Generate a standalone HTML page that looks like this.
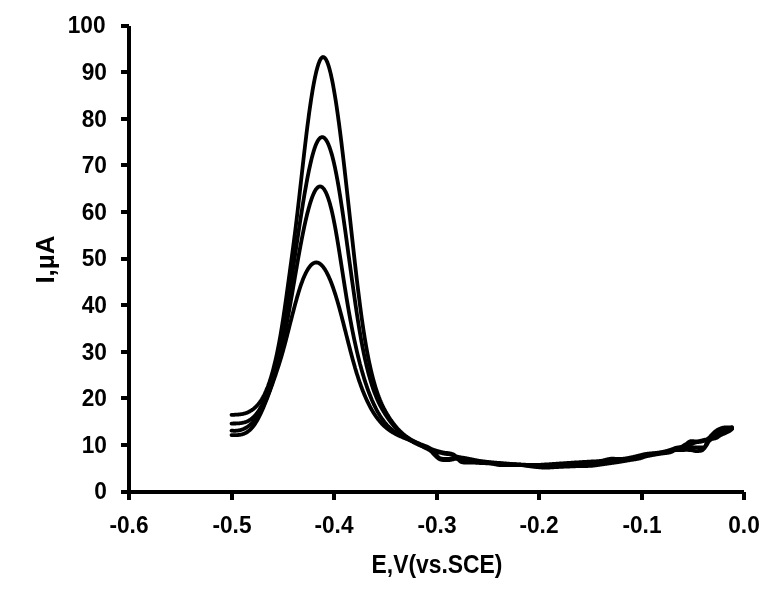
<!DOCTYPE html>
<html><head><meta charset="utf-8"><style>
html,body{margin:0;padding:0;background:#fff;}
svg{display:block;will-change:transform;}
text{font-family:"Liberation Sans",sans-serif;font-weight:bold;fill:#000;}
</style></head><body>
<svg width="783" height="606" viewBox="0 0 783 606">
<rect width="783" height="606" fill="#fff"/>
<g fill="#000">
<rect x="127" y="26" width="4" height="468"/>
<rect x="127" y="490" width="617" height="4"/>
<rect x="121" y="490" width="8" height="4"/><rect x="121" y="443" width="8" height="4"/><rect x="121" y="396" width="8" height="4"/><rect x="121" y="350" width="8" height="4"/><rect x="121" y="303" width="8" height="4"/><rect x="121" y="257" width="8" height="4"/><rect x="121" y="210" width="8" height="4"/><rect x="121" y="163" width="8" height="4"/><rect x="121" y="117" width="8" height="4"/><rect x="121" y="70" width="8" height="4"/><rect x="121" y="24" width="8" height="4"/><rect x="127" y="492" width="4" height="8"/><rect x="230" y="492" width="4" height="8"/><rect x="332" y="492" width="4" height="8"/><rect x="435" y="492" width="4" height="8"/><rect x="537" y="492" width="4" height="8"/><rect x="640" y="492" width="4" height="8"/><rect x="742" y="492" width="4" height="8"/>
</g>
<g font-size="23.4"><text transform="translate(106.9,499.30) scale(0.970,1)" text-anchor="end">0</text><text transform="translate(106.9,452.70) scale(0.970,1)" text-anchor="end">10</text><text transform="translate(106.9,406.10) scale(0.970,1)" text-anchor="end">20</text><text transform="translate(106.9,359.50) scale(0.970,1)" text-anchor="end">30</text><text transform="translate(106.9,312.90) scale(0.970,1)" text-anchor="end">40</text><text transform="translate(106.9,266.30) scale(0.970,1)" text-anchor="end">50</text><text transform="translate(106.9,219.70) scale(0.970,1)" text-anchor="end">60</text><text transform="translate(106.9,173.10) scale(0.970,1)" text-anchor="end">70</text><text transform="translate(106.9,126.50) scale(0.970,1)" text-anchor="end">80</text><text transform="translate(106.9,79.90) scale(0.970,1)" text-anchor="end">90</text><text transform="translate(105.6,33.30) scale(0.970,1)" text-anchor="end">100</text></g>
<g font-size="23.4"><text transform="translate(129.0,532.5) scale(0.970,1)" text-anchor="middle">-0.6</text><text transform="translate(232.0,532.5) scale(0.970,1)" text-anchor="middle">-0.5</text><text transform="translate(334.0,532.5) scale(0.970,1)" text-anchor="middle">-0.4</text><text transform="translate(437.0,532.5) scale(0.970,1)" text-anchor="middle">-0.3</text><text transform="translate(539.0,532.5) scale(0.970,1)" text-anchor="middle">-0.2</text><text transform="translate(642.0,532.5) scale(0.970,1)" text-anchor="middle">-0.1</text><text transform="translate(744.0,532.5) scale(0.970,1)" text-anchor="middle">0.0</text></g>
<text x="437" y="573" font-size="26" text-anchor="middle" transform="translate(437,0) scale(0.88,1) translate(-437,0)">E,V(vs.SCE)</text>
<text transform="translate(54,259.5) rotate(-90)" font-size="26" text-anchor="middle">I,µA</text>
<g fill="none" stroke="#000" stroke-width="3.8" stroke-linejoin="round" stroke-linecap="round"><path d="M231.5,414.8 L232.0,414.8 L232.5,414.8 L233.0,414.8 L233.5,414.8 L234.0,414.8 L234.5,414.8 L235.0,414.7 L235.5,414.7 L236.0,414.7 L236.5,414.7 L237.0,414.7 L237.5,414.6 L238.0,414.6 L238.5,414.5 L239.0,414.5 L239.5,414.4 L240.0,414.4 L240.5,414.3 L241.0,414.2 L241.5,414.2 L242.0,414.1 L242.5,414.0 L243.0,413.9 L243.5,413.8 L244.0,413.6 L244.5,413.5 L245.0,413.4 L245.5,413.2 L246.0,413.0 L246.5,412.9 L247.0,412.7 L247.5,412.5 L248.0,412.2 L248.5,412.0 L249.0,411.8 L249.5,411.5 L250.0,411.2 L250.5,410.9 L251.0,410.6 L251.5,410.3 L252.0,410.0 L252.5,409.6 L253.0,409.3 L253.5,408.9 L254.0,408.5 L254.5,408.1 L255.0,407.6 L255.5,407.2 L256.0,406.7 L256.5,406.2 L257.0,405.7 L257.5,405.1 L258.0,404.5 L258.5,403.9 L259.0,403.3 L259.5,402.6 L260.0,402.0 L260.5,401.2 L261.0,400.5 L261.5,399.7 L262.0,398.9 L262.5,398.0 L263.0,397.2 L263.5,396.2 L264.0,395.3 L264.5,394.3 L265.0,393.2 L265.5,392.1 L266.0,391.0 L266.5,389.8 L267.0,388.6 L267.5,387.4 L268.0,386.1 L268.5,384.7 L269.0,383.3 L269.5,381.9 L270.0,380.3 L270.5,378.8 L271.0,377.2 L271.5,375.5 L272.0,373.8 L272.5,372.0 L273.0,370.2 L273.5,368.3 L274.0,366.3 L274.5,364.3 L275.0,362.2 L275.5,360.1 L276.0,357.9 L276.5,355.6 L277.0,353.3 L277.5,350.9 L278.0,348.4 L278.5,345.9 L279.0,343.3 L279.5,340.6 L280.0,337.8 L280.5,335.0 L281.0,332.1 L281.5,329.1 L282.0,326.1 L282.5,322.9 L283.0,319.7 L283.5,316.5 L284.0,313.1 L284.5,309.7 L285.0,306.3 L285.5,302.8 L286.0,299.3 L286.5,295.7 L287.0,292.1 L287.5,288.5 L288.0,284.8 L288.5,281.2 L289.0,277.5 L289.5,273.9 L290.0,270.2 L290.5,266.6 L291.0,262.9 L291.5,259.2 L292.0,255.5 L292.5,251.8 L293.0,248.1 L293.5,244.3 L294.0,240.4 L294.5,236.6 L295.0,232.7 L295.5,228.7 L296.0,224.6 L296.5,220.5 L297.0,216.3 L297.5,212.1 L298.0,207.8 L298.5,203.5 L299.0,199.1 L299.5,194.7 L300.0,190.3 L300.5,185.8 L301.0,181.4 L301.5,176.9 L302.0,172.4 L302.5,168.0 L303.0,163.5 L303.5,159.1 L304.0,154.7 L304.5,150.4 L305.0,146.1 L305.5,141.9 L306.0,137.7 L306.5,133.6 L307.0,129.5 L307.5,125.5 L308.0,121.7 L308.5,117.9 L309.0,114.1 L309.5,110.5 L310.0,107.0 L310.5,103.6 L311.0,100.2 L311.5,97.0 L312.0,93.9 L312.5,90.8 L313.0,87.9 L313.5,85.1 L314.0,82.4 L314.5,79.9 L315.0,77.4 L315.5,75.1 L316.0,72.9 L316.5,70.8 L317.0,68.9 L317.5,67.1 L318.0,65.5 L318.5,63.9 L319.0,62.6 L319.5,61.3 L320.0,60.2 L320.5,59.3 L321.0,58.5 L321.5,57.9 L322.0,57.5 L322.5,57.2 L323.0,57.0 L323.5,57.1 L324.0,57.3 L324.5,57.6 L325.0,58.1 L325.5,58.7 L326.0,59.5 L326.5,60.5 L327.0,61.6 L327.5,62.8 L328.0,64.1 L328.5,65.6 L329.0,67.3 L329.5,69.0 L330.0,70.9 L330.5,72.9 L331.0,75.0 L331.5,77.3 L332.0,79.7 L332.5,82.2 L333.0,84.7 L333.5,87.5 L334.0,90.3 L334.5,93.2 L335.0,96.2 L335.5,99.3 L336.0,102.5 L336.5,105.8 L337.0,109.2 L337.5,112.7 L338.0,116.2 L338.5,119.9 L339.0,123.6 L339.5,127.4 L340.0,131.3 L340.5,135.2 L341.0,139.2 L341.5,143.3 L342.0,147.4 L342.5,151.6 L343.0,155.8 L343.5,160.1 L344.0,164.4 L344.5,168.8 L345.0,173.2 L345.5,177.6 L346.0,182.1 L346.5,186.6 L347.0,191.1 L347.5,195.6 L348.0,200.2 L348.5,204.7 L349.0,209.3 L349.5,213.9 L350.0,218.5 L350.5,223.0 L351.0,227.6 L351.5,232.2 L352.0,236.8 L352.5,241.3 L353.0,245.8 L353.5,250.3 L354.0,254.8 L354.5,259.2 L355.0,263.6 L355.5,268.0 L356.0,272.4 L356.5,276.7 L357.0,280.9 L357.5,285.1 L358.0,289.2 L358.5,293.3 L359.0,297.3 L359.5,301.3 L360.0,305.2 L360.5,309.0 L361.0,312.7 L361.5,316.4 L362.0,320.0 L362.5,323.5 L363.0,326.9 L363.5,330.2 L364.0,333.4 L364.5,336.6 L365.0,339.6 L365.5,342.6 L366.0,345.5 L366.5,348.3 L367.0,351.1 L367.5,353.7 L368.0,356.3 L368.5,358.8 L369.0,361.3 L369.5,363.6 L370.0,366.0 L370.5,368.2 L371.0,370.4 L371.5,372.5 L372.0,374.5 L372.5,376.5 L373.0,378.4 L373.5,380.3 L374.0,382.1 L374.5,383.8 L375.0,385.5 L375.5,387.2 L376.0,388.8 L376.5,390.3 L377.0,391.8 L377.5,393.3 L378.0,394.7 L378.5,396.0 L379.0,397.4 L379.5,398.6 L380.0,399.9 L380.5,401.1 L381.0,402.3 L381.5,403.4 L382.0,404.5 L382.5,405.5 L383.0,406.6 L383.5,407.6 L384.0,408.6 L384.5,409.5 L385.0,410.5 L385.5,411.4 L386.0,412.2 L386.5,413.1 L387.0,414.0 L387.5,414.8 L388.0,415.6 L388.5,416.4 L389.0,417.2 L389.5,418.0 L390.0,418.7 L390.5,419.5 L391.0,420.2 L391.5,420.9 L392.0,421.6 L392.5,422.3 L393.0,423.0 L393.5,423.6 L394.0,424.3 L394.5,424.9 L395.0,425.5 L395.5,426.1 L396.0,426.7 L396.5,427.3 L397.0,427.9 L397.5,428.5 L398.0,429.0 L398.5,429.5 L399.0,430.1 L399.5,430.6 L400.0,431.1 L400.5,431.6 L401.0,432.1 L401.5,432.5 L402.0,433.0 L402.5,433.4 L403.0,433.9 L403.5,434.3 L404.0,434.7 L404.5,435.1 L405.0,435.5 L405.5,435.9 L406.0,436.3 L406.5,436.7 L407.0,437.0 L407.5,437.4 L408.0,437.7 L408.5,438.0 L409.0,438.4 L409.5,438.7 L410.0,439.0 L410.5,439.3 L411.0,439.6 L411.5,439.9 L412.0,440.2 L412.5,440.4 L413.0,440.7 L413.5,441.0 L414.0,441.2 L414.5,441.5 L415.0,441.7 L415.5,442.0 L416.0,442.2 L416.5,442.4 L417.0,442.7 L417.5,442.9 L418.0,443.1 L418.5,443.3 L419.0,443.5 L419.5,443.7 L420.0,444.0 L420.5,444.2 L421.0,444.4 L421.5,444.6 L422.0,444.7 L422.5,444.9 L423.0,445.1 L423.5,445.3 L424.0,445.5 L424.5,445.7 L425.0,445.9 L425.5,446.0 L426.0,446.2 L426.5,446.4 L427.0,446.6 L427.5,446.8 L428.0,447.1 L428.5,447.4 L429.0,447.7 L429.5,448.0 L430.0,448.3 L430.5,448.6 L431.0,448.8 L431.5,449.1 L432.0,449.3 L432.5,449.4 L433.0,449.6 L433.5,449.8 L434.0,450.0 L434.5,450.1 L435.0,450.3 L435.5,450.5 L436.0,450.6 L436.5,450.8 L437.0,450.9 L437.5,451.0 L438.0,451.2 L438.5,451.3 L439.0,451.4 L439.5,451.6 L440.0,451.7 L440.5,451.8 L441.0,452.0 L441.5,452.1 L442.0,452.2 L442.5,452.3 L443.0,452.4 L443.5,452.5 L444.0,452.6 L444.5,452.7 L445.0,452.8 L445.5,452.9 L446.0,452.9 L446.5,453.0 L447.0,453.0 L447.5,453.0 L448.0,453.1 L448.5,453.1 L449.0,453.2 L449.5,453.3 L450.0,453.4 L450.5,453.5 L451.0,453.6 L451.5,453.8 L452.0,453.9 L452.5,454.1 L453.0,454.3 L453.5,454.5 L454.0,454.9 L454.5,455.2 L455.0,455.6 L455.5,455.9 L456.0,456.2 L456.5,456.4 L457.0,456.5 L457.5,456.7 L458.0,456.8 L458.5,456.9 L459.0,457.0 L459.5,457.1 L460.0,457.2 L460.5,457.3 L461.0,457.4 L461.5,457.5 L462.0,457.6 L462.5,457.6 L463.0,457.7 L463.5,457.8 L464.0,457.8 L464.5,457.9 L465.0,458.0 L465.5,458.1 L466.0,458.2 L466.5,458.3 L467.0,458.4 L467.5,458.5 L468.0,458.6 L468.5,458.7 L469.0,458.8 L469.5,458.9 L470.0,459.0 L470.5,459.1 L471.0,459.2 L471.5,459.3 L472.0,459.4 L472.5,459.5 L473.0,459.6 L473.5,459.7 L474.0,459.8 L474.5,459.9 L475.0,460.0 L475.5,460.1 L476.0,460.2 L476.5,460.3 L477.0,460.4 L477.5,460.5 L478.0,460.6 L478.5,460.7 L479.0,460.8 L479.5,460.8 L480.0,460.9 L480.5,461.0 L481.0,461.1 L481.5,461.1 L482.0,461.2 L482.5,461.3 L483.0,461.3 L483.5,461.4 L484.0,461.5 L484.5,461.5 L485.0,461.6 L485.5,461.7 L486.0,461.7 L486.5,461.8 L487.0,461.9 L487.5,461.9 L488.0,462.0 L488.5,462.0 L489.0,462.1 L489.5,462.1 L490.0,462.2 L490.5,462.2 L491.0,462.3 L491.5,462.3 L492.0,462.4 L492.5,462.4 L493.0,462.5 L493.5,462.5 L494.0,462.5 L494.5,462.6 L495.0,462.6 L495.5,462.7 L496.0,462.7 L496.5,462.7 L497.0,462.8 L497.5,462.8 L498.0,462.8 L498.5,462.9 L499.0,462.9 L499.5,463.0 L500.0,463.0 L500.5,463.0 L501.0,463.1 L501.5,463.1 L502.0,463.2 L502.5,463.2 L503.0,463.2 L503.5,463.3 L504.0,463.3 L504.5,463.4 L505.0,463.4 L505.5,463.5 L506.0,463.5 L506.5,463.5 L507.0,463.6 L507.5,463.6 L508.0,463.7 L508.5,463.7 L509.0,463.7 L509.5,463.8 L510.0,463.8 L510.5,463.9 L511.0,463.9 L511.5,464.0 L512.0,464.0 L512.5,464.0 L513.0,464.1 L513.5,464.1 L514.0,464.1 L514.5,464.2 L515.0,464.2 L515.5,464.2 L516.0,464.3 L516.5,464.3 L517.0,464.3 L517.5,464.4 L518.0,464.4 L518.5,464.4 L519.0,464.5 L519.5,464.5 L520.0,464.5 L520.5,464.5 L521.0,464.5 L521.5,464.6 L522.0,464.6 L522.5,464.6 L523.0,464.6 L523.5,464.7 L524.0,464.7 L524.5,464.7 L525.0,464.7 L525.5,464.8 L526.0,464.8 L526.5,464.8 L527.0,464.8 L527.5,464.8 L528.0,464.9 L528.5,464.9 L529.0,464.9 L529.5,464.9 L530.0,464.9 L530.5,464.9 L531.0,464.9 L531.5,465.0 L532.0,465.0 L532.5,465.0 L533.0,465.0 L533.5,465.0 L534.0,465.0 L534.5,465.0 L535.0,465.0 L535.5,465.0 L536.0,465.0 L536.5,465.0 L537.0,465.0 L537.5,464.9 L538.0,464.9 L538.5,464.9 L539.0,464.9 L539.5,464.9 L540.0,464.8 L540.5,464.8 L541.0,464.8 L541.5,464.7 L542.0,464.7 L542.5,464.7 L543.0,464.6 L543.5,464.6 L544.0,464.6 L544.5,464.5 L545.0,464.5 L545.5,464.5 L546.0,464.4 L546.5,464.4 L547.0,464.4 L547.5,464.4 L548.0,464.3 L548.5,464.3 L549.0,464.3 L549.5,464.2 L550.0,464.2 L550.5,464.2 L551.0,464.1 L551.5,464.1 L552.0,464.1 L552.5,464.0 L553.0,464.0 L553.5,463.9 L554.0,463.9 L554.5,463.9 L555.0,463.8 L555.5,463.8 L556.0,463.8 L556.5,463.7 L557.0,463.7 L557.5,463.7 L558.0,463.6 L558.5,463.6 L559.0,463.6 L559.5,463.5 L560.0,463.5 L560.5,463.5 L561.0,463.4 L561.5,463.4 L562.0,463.4 L562.5,463.3 L563.0,463.3 L563.5,463.3 L564.0,463.2 L564.5,463.2 L565.0,463.2 L565.5,463.1 L566.0,463.1 L566.5,463.1 L567.0,463.0 L567.5,463.0 L568.0,463.0 L568.5,462.9 L569.0,462.9 L569.5,462.9 L570.0,462.8 L570.5,462.8 L571.0,462.8 L571.5,462.7 L572.0,462.7 L572.5,462.7 L573.0,462.6 L573.5,462.6 L574.0,462.6 L574.5,462.5 L575.0,462.5 L575.5,462.5 L576.0,462.5 L576.5,462.4 L577.0,462.4 L577.5,462.4 L578.0,462.3 L578.5,462.3 L579.0,462.3 L579.5,462.2 L580.0,462.2 L580.5,462.2 L581.0,462.1 L581.5,462.1 L582.0,462.1 L582.5,462.0 L583.0,462.0 L583.5,462.0 L584.0,462.0 L584.5,461.9 L585.0,461.9 L585.5,461.9 L586.0,461.8 L586.5,461.8 L587.0,461.8 L587.5,461.7 L588.0,461.7 L588.5,461.7 L589.0,461.7 L589.5,461.6 L590.0,461.6 L590.5,461.6 L591.0,461.5 L591.5,461.5 L592.0,461.5 L592.5,461.5 L593.0,461.4 L593.5,461.4 L594.0,461.4 L594.5,461.4 L595.0,461.3 L595.5,461.3 L596.0,461.3 L596.5,461.3 L597.0,461.2 L597.5,461.2 L598.0,461.2 L598.5,461.1 L599.0,461.1 L599.5,461.0 L600.0,461.0 L600.5,460.9 L601.0,460.9 L601.5,460.8 L602.0,460.7 L602.5,460.6 L603.0,460.5 L603.5,460.4 L604.0,460.2 L604.5,460.1 L605.0,460.0 L605.5,459.8 L606.0,459.7 L606.5,459.6 L607.0,459.5 L607.5,459.3 L608.0,459.2 L608.5,459.1 L609.0,459.0 L609.5,458.9 L610.0,458.8 L610.5,458.8 L611.0,458.7 L611.5,458.7 L612.0,458.7 L612.5,458.7 L613.0,458.7 L613.5,458.7 L614.0,458.7 L614.5,458.8 L615.0,458.8 L615.5,458.8 L616.0,458.9 L616.5,458.9 L617.0,458.9 L617.5,458.9 L618.0,459.0 L618.5,459.0 L619.0,459.0 L619.5,459.0 L620.0,459.0 L620.5,459.0 L621.0,459.0 L621.5,458.9 L622.0,458.9 L622.5,458.9 L623.0,458.8 L623.5,458.7 L624.0,458.7 L624.5,458.6 L625.0,458.5 L625.5,458.4 L626.0,458.3 L626.5,458.3 L627.0,458.2 L627.5,458.1 L628.0,458.0 L628.5,457.9 L629.0,457.8 L629.5,457.7 L630.0,457.6 L630.5,457.5 L631.0,457.4 L631.5,457.3 L632.0,457.2 L632.5,457.1 L633.0,457.0 L633.5,456.9 L634.0,456.8 L634.5,456.6 L635.0,456.5 L635.5,456.4 L636.0,456.3 L636.5,456.2 L637.0,456.0 L637.5,455.9 L638.0,455.8 L638.5,455.7 L639.0,455.5 L639.5,455.4 L640.0,455.3 L640.5,455.2 L641.0,455.1 L641.5,454.9 L642.0,454.8 L642.5,454.7 L643.0,454.5 L643.5,454.4 L644.0,454.3 L644.5,454.2 L645.0,454.1 L645.5,454.0 L646.0,453.9 L646.5,453.9 L647.0,453.8 L647.5,453.7 L648.0,453.7 L648.5,453.6 L649.0,453.6 L649.5,453.5 L650.0,453.5 L650.5,453.4 L651.0,453.4 L651.5,453.3 L652.0,453.3 L652.5,453.2 L653.0,453.2 L653.5,453.1 L654.0,453.1 L654.5,453.1 L655.0,453.0 L655.5,453.0 L656.0,452.9 L656.5,452.9 L657.0,452.8 L657.5,452.7 L658.0,452.7 L658.5,452.6 L659.0,452.5 L659.5,452.5 L660.0,452.4 L660.5,452.3 L661.0,452.2 L661.5,452.1 L662.0,452.0 L662.5,451.9 L663.0,451.8 L663.5,451.7 L664.0,451.6 L664.5,451.5 L665.0,451.4 L665.5,451.2 L666.0,451.1 L666.5,451.0 L667.0,450.9 L667.5,450.7 L668.0,450.6 L668.5,450.4 L669.0,450.3 L669.5,450.1 L670.0,450.0 L670.5,449.8 L671.0,449.7 L671.5,449.5 L672.0,449.3 L672.5,449.1 L673.0,448.9 L673.5,448.7 L674.0,448.5 L674.5,448.3 L675.0,448.1 L675.5,447.9 L676.0,447.8 L676.5,447.7 L677.0,447.6 L677.5,447.5 L678.0,447.4 L678.5,447.4 L679.0,447.3 L679.5,447.2 L680.0,447.1 L680.5,447.0 L681.0,446.9 L681.5,446.7 L682.0,446.5 L682.5,446.3 L683.0,446.0 L683.5,445.7 L684.0,445.4 L684.5,445.0 L685.0,444.7 L685.5,444.4 L686.0,444.1 L686.5,443.8 L687.0,443.4 L687.5,443.0 L688.0,442.6 L688.5,442.2 L689.0,441.9 L689.5,441.6 L690.0,441.3 L690.5,441.2 L691.0,441.1 L691.5,441.1 L692.0,441.1 L692.5,441.2 L693.0,441.2 L693.5,441.2 L694.0,441.3 L694.5,441.3 L695.0,441.4 L695.5,441.4 L696.0,441.4 L696.5,441.4 L697.0,441.4 L697.5,441.3 L698.0,441.3 L698.5,441.2 L699.0,441.1 L699.5,441.0 L700.0,440.9 L700.5,440.8 L701.0,440.7 L701.5,440.6 L702.0,440.5 L702.5,440.3 L703.0,440.2 L703.5,440.0 L704.0,439.9 L704.5,439.8 L705.0,439.7 L705.5,439.7 L706.0,439.6 L706.5,439.5 L707.0,439.3 L707.5,439.0 L708.0,438.6 L708.5,438.2 L709.0,437.8 L709.5,437.3 L710.0,436.8 L710.5,436.2 L711.0,435.7 L711.5,435.1 L712.0,434.6 L712.5,434.1 L713.0,433.6 L713.5,433.1 L714.0,432.6 L714.5,432.1 L715.0,431.7 L715.5,431.3 L716.0,430.9 L716.5,430.6 L717.0,430.2 L717.5,429.9 L718.0,429.6 L718.5,429.4 L719.0,429.1 L719.5,428.9 L720.0,428.7 L720.5,428.5 L721.0,428.3 L721.5,428.2 L722.0,428.0 L722.5,427.8 L723.0,427.7 L723.5,427.6 L724.0,427.5 L724.5,427.4 L725.0,427.4 L725.5,427.4 L726.0,427.4 L726.5,427.4 L727.0,427.4 L727.5,427.4 L728.0,427.4 L728.5,427.4 L729.0,427.4 L729.5,427.4 L730.0,427.4 L730.5,427.3 L731.0,427.3 L731.5,427.2 L732.0,427.1"/><path d="M231.5,423.6 L232.0,423.6 L232.5,423.6 L233.0,423.5 L233.5,423.5 L234.0,423.5 L234.5,423.5 L235.0,423.5 L235.5,423.5 L236.0,423.5 L236.5,423.4 L237.0,423.4 L237.5,423.4 L238.0,423.4 L238.5,423.3 L239.0,423.3 L239.5,423.3 L240.0,423.2 L240.5,423.2 L241.0,423.1 L241.5,423.0 L242.0,422.9 L242.5,422.8 L243.0,422.7 L243.5,422.6 L244.0,422.5 L244.5,422.4 L245.0,422.2 L245.5,422.1 L246.0,421.9 L246.5,421.7 L247.0,421.5 L247.5,421.3 L248.0,421.0 L248.5,420.8 L249.0,420.5 L249.5,420.2 L250.0,419.9 L250.5,419.6 L251.0,419.2 L251.5,418.8 L252.0,418.4 L252.5,418.0 L253.0,417.6 L253.5,417.1 L254.0,416.6 L254.5,416.1 L255.0,415.6 L255.5,415.0 L256.0,414.4 L256.5,413.8 L257.0,413.1 L257.5,412.5 L258.0,411.7 L258.5,411.0 L259.0,410.2 L259.5,409.4 L260.0,408.6 L260.5,407.8 L261.0,406.9 L261.5,406.0 L262.0,405.0 L262.5,404.0 L263.0,403.0 L263.5,402.0 L264.0,400.9 L264.5,399.8 L265.0,398.6 L265.5,397.4 L266.0,396.2 L266.5,395.0 L267.0,393.7 L267.5,392.3 L268.0,391.0 L268.5,389.6 L269.0,388.1 L269.5,386.6 L270.0,385.1 L270.5,383.6 L271.0,382.0 L271.5,380.3 L272.0,378.7 L272.5,377.0 L273.0,375.2 L273.5,373.4 L274.0,371.6 L274.5,369.7 L275.0,367.8 L275.5,365.8 L276.0,363.8 L276.5,361.7 L277.0,359.6 L277.5,357.5 L278.0,355.3 L278.5,353.1 L279.0,350.8 L279.5,348.5 L280.0,346.1 L280.5,343.7 L281.0,341.2 L281.5,338.7 L282.0,336.1 L282.5,333.5 L283.0,330.9 L283.5,328.1 L284.0,325.4 L284.5,322.6 L285.0,319.7 L285.5,316.8 L286.0,313.8 L286.5,310.8 L287.0,307.8 L287.5,304.7 L288.0,301.6 L288.5,298.4 L289.0,295.3 L289.5,292.1 L290.0,288.8 L290.5,285.6 L291.0,282.3 L291.5,279.0 L292.0,275.6 L292.5,272.3 L293.0,269.0 L293.5,265.6 L294.0,262.2 L294.5,258.9 L295.0,255.5 L295.5,252.1 L296.0,248.8 L296.5,245.4 L297.0,242.0 L297.5,238.7 L298.0,235.4 L298.5,232.1 L299.0,228.8 L299.5,225.5 L300.0,222.2 L300.5,219.0 L301.0,215.8 L301.5,212.6 L302.0,209.5 L302.5,206.4 L303.0,203.3 L303.5,200.3 L304.0,197.3 L304.5,194.3 L305.0,191.4 L305.5,188.6 L306.0,185.8 L306.5,183.0 L307.0,180.3 L307.5,177.7 L308.0,175.2 L308.5,172.7 L309.0,170.2 L309.5,167.9 L310.0,165.6 L310.5,163.3 L311.0,161.2 L311.5,159.1 L312.0,157.1 L312.5,155.2 L313.0,153.4 L313.5,151.7 L314.0,150.1 L314.5,148.5 L315.0,147.1 L315.5,145.7 L316.0,144.5 L316.5,143.3 L317.0,142.3 L317.5,141.3 L318.0,140.5 L318.5,139.7 L319.0,139.1 L319.5,138.5 L320.0,138.0 L320.5,137.7 L321.0,137.4 L321.5,137.2 L322.0,137.1 L322.5,137.1 L323.0,137.2 L323.5,137.4 L324.0,137.7 L324.5,138.1 L325.0,138.6 L325.5,139.2 L326.0,139.9 L326.5,140.6 L327.0,141.5 L327.5,142.4 L328.0,143.5 L328.5,144.6 L329.0,145.9 L329.5,147.2 L330.0,148.6 L330.5,150.1 L331.0,151.7 L331.5,153.4 L332.0,155.1 L332.5,157.0 L333.0,159.0 L333.5,161.0 L334.0,163.1 L334.5,165.4 L335.0,167.7 L335.5,170.1 L336.0,172.6 L336.5,175.1 L337.0,177.8 L337.5,180.5 L338.0,183.4 L338.5,186.2 L339.0,189.2 L339.5,192.2 L340.0,195.3 L340.5,198.5 L341.0,201.7 L341.5,205.0 L342.0,208.3 L342.5,211.6 L343.0,215.0 L343.5,218.5 L344.0,222.0 L344.5,225.5 L345.0,229.0 L345.5,232.6 L346.0,236.2 L346.5,239.8 L347.0,243.4 L347.5,247.1 L348.0,250.7 L348.5,254.4 L349.0,258.0 L349.5,261.7 L350.0,265.3 L350.5,269.0 L351.0,272.6 L351.5,276.3 L352.0,279.9 L352.5,283.5 L353.0,287.0 L353.5,290.6 L354.0,294.1 L354.5,297.6 L355.0,301.0 L355.5,304.5 L356.0,307.8 L356.5,311.2 L357.0,314.5 L357.5,317.7 L358.0,320.9 L358.5,324.0 L359.0,327.1 L359.5,330.1 L360.0,333.1 L360.5,336.0 L361.0,338.8 L361.5,341.6 L362.0,344.2 L362.5,346.9 L363.0,349.4 L363.5,351.9 L364.0,354.3 L364.5,356.7 L365.0,359.0 L365.5,361.2 L366.0,363.4 L366.5,365.5 L367.0,367.6 L367.5,369.6 L368.0,371.5 L368.5,373.4 L369.0,375.3 L369.5,377.1 L370.0,378.8 L370.5,380.5 L371.0,382.2 L371.5,383.8 L372.0,385.3 L372.5,386.9 L373.0,388.3 L373.5,389.8 L374.0,391.2 L374.5,392.5 L375.0,393.8 L375.5,395.1 L376.0,396.3 L376.5,397.6 L377.0,398.7 L377.5,399.9 L378.0,401.0 L378.5,402.1 L379.0,403.1 L379.5,404.1 L380.0,405.1 L380.5,406.1 L381.0,407.0 L381.5,408.0 L382.0,408.9 L382.5,409.8 L383.0,410.6 L383.5,411.5 L384.0,412.3 L384.5,413.1 L385.0,413.9 L385.5,414.7 L386.0,415.4 L386.5,416.2 L387.0,416.9 L387.5,417.7 L388.0,418.4 L388.5,419.1 L389.0,419.8 L389.5,420.5 L390.0,421.2 L390.5,421.8 L391.0,422.5 L391.5,423.1 L392.0,423.7 L392.5,424.4 L393.0,425.0 L393.5,425.6 L394.0,426.1 L394.5,426.7 L395.0,427.3 L395.5,427.8 L396.0,428.4 L396.5,428.9 L397.0,429.5 L397.5,430.0 L398.0,430.5 L398.5,431.0 L399.0,431.5 L399.5,432.0 L400.0,432.4 L400.5,432.9 L401.0,433.3 L401.5,433.8 L402.0,434.2 L402.5,434.7 L403.0,435.1 L403.5,435.5 L404.0,435.9 L404.5,436.3 L405.0,436.7 L405.5,437.1 L406.0,437.4 L406.5,437.8 L407.0,438.2 L407.5,438.5 L408.0,438.9 L408.5,439.2 L409.0,439.6 L409.5,439.9 L410.0,440.2 L410.5,440.5 L411.0,440.8 L411.5,441.1 L412.0,441.4 L412.5,441.7 L413.0,442.0 L413.5,442.3 L414.0,442.5 L414.5,442.8 L415.0,443.1 L415.5,443.3 L416.0,443.6 L416.5,443.8 L417.0,444.1 L417.5,444.3 L418.0,444.5 L418.5,444.8 L419.0,445.0 L419.5,445.2 L420.0,445.4 L420.5,445.6 L421.0,445.9 L421.5,446.1 L422.0,446.3 L422.5,446.5 L423.0,446.7 L423.5,446.8 L424.0,447.0 L424.5,447.2 L425.0,447.3 L425.5,447.4 L426.0,447.5 L426.5,447.6 L427.0,447.7 L427.5,447.8 L428.0,448.0 L428.5,448.2 L429.0,448.5 L429.5,448.8 L430.0,449.0 L430.5,449.4 L431.0,449.7 L431.5,450.1 L432.0,450.4 L432.5,450.8 L433.0,451.1 L433.5,451.4 L434.0,451.6 L434.5,451.8 L435.0,452.0 L435.5,452.1 L436.0,452.2 L436.5,452.2 L437.0,452.3 L437.5,452.4 L438.0,452.4 L438.5,452.5 L439.0,452.5 L439.5,452.6 L440.0,452.7 L440.5,452.8 L441.0,452.9 L441.5,453.0 L442.0,453.1 L442.5,453.3 L443.0,453.4 L443.5,453.5 L444.0,453.6 L444.5,453.7 L445.0,453.8 L445.5,453.9 L446.0,453.9 L446.5,454.0 L447.0,454.0 L447.5,454.0 L448.0,454.1 L448.5,454.1 L449.0,454.2 L449.5,454.3 L450.0,454.4 L450.5,454.5 L451.0,454.6 L451.5,454.8 L452.0,454.9 L452.5,455.1 L453.0,455.3 L453.5,455.5 L454.0,455.8 L454.5,456.2 L455.0,456.5 L455.5,456.8 L456.0,457.0 L456.5,457.2 L457.0,457.4 L457.5,457.5 L458.0,457.7 L458.5,457.9 L459.0,458.1 L459.5,458.3 L460.0,458.6 L460.5,458.8 L461.0,458.9 L461.5,459.0 L462.0,459.1 L462.5,459.2 L463.0,459.3 L463.5,459.3 L464.0,459.4 L464.5,459.5 L465.0,459.5 L465.5,459.6 L466.0,459.7 L466.5,459.7 L467.0,459.8 L467.5,459.9 L468.0,459.9 L468.5,460.0 L469.0,460.1 L469.5,460.1 L470.0,460.2 L470.5,460.3 L471.0,460.3 L471.5,460.4 L472.0,460.5 L472.5,460.5 L473.0,460.6 L473.5,460.7 L474.0,460.8 L474.5,460.8 L475.0,460.9 L475.5,461.0 L476.0,461.1 L476.5,461.2 L477.0,461.2 L477.5,461.3 L478.0,461.4 L478.5,461.4 L479.0,461.5 L479.5,461.5 L480.0,461.6 L480.5,461.7 L481.0,461.7 L481.5,461.8 L482.0,461.8 L482.5,461.9 L483.0,461.9 L483.5,462.0 L484.0,462.0 L484.5,462.1 L485.0,462.1 L485.5,462.2 L486.0,462.2 L486.5,462.3 L487.0,462.3 L487.5,462.4 L488.0,462.4 L488.5,462.5 L489.0,462.5 L489.5,462.6 L490.0,462.6 L490.5,462.7 L491.0,462.7 L491.5,462.8 L492.0,462.8 L492.5,462.9 L493.0,463.0 L493.5,463.0 L494.0,463.1 L494.5,463.1 L495.0,463.2 L495.5,463.2 L496.0,463.3 L496.5,463.4 L497.0,463.4 L497.5,463.5 L498.0,463.5 L498.5,463.5 L499.0,463.6 L499.5,463.6 L500.0,463.7 L500.5,463.7 L501.0,463.7 L501.5,463.8 L502.0,463.8 L502.5,463.8 L503.0,463.9 L503.5,463.9 L504.0,463.9 L504.5,463.9 L505.0,464.0 L505.5,464.0 L506.0,464.0 L506.5,464.1 L507.0,464.1 L507.5,464.1 L508.0,464.1 L508.5,464.2 L509.0,464.2 L509.5,464.2 L510.0,464.2 L510.5,464.2 L511.0,464.3 L511.5,464.3 L512.0,464.3 L512.5,464.3 L513.0,464.4 L513.5,464.4 L514.0,464.4 L514.5,464.4 L515.0,464.4 L515.5,464.5 L516.0,464.5 L516.5,464.5 L517.0,464.5 L517.5,464.6 L518.0,464.6 L518.5,464.6 L519.0,464.6 L519.5,464.7 L520.0,464.7 L520.5,464.7 L521.0,464.8 L521.5,464.8 L522.0,464.8 L522.5,464.9 L523.0,464.9 L523.5,464.9 L524.0,465.0 L524.5,465.0 L525.0,465.1 L525.5,465.1 L526.0,465.2 L526.5,465.2 L527.0,465.2 L527.5,465.3 L528.0,465.3 L528.5,465.3 L529.0,465.4 L529.5,465.4 L530.0,465.5 L530.5,465.5 L531.0,465.5 L531.5,465.5 L532.0,465.6 L532.5,465.6 L533.0,465.6 L533.5,465.6 L534.0,465.6 L534.5,465.6 L535.0,465.6 L535.5,465.6 L536.0,465.6 L536.5,465.6 L537.0,465.6 L537.5,465.6 L538.0,465.6 L538.5,465.6 L539.0,465.6 L539.5,465.6 L540.0,465.6 L540.5,465.6 L541.0,465.6 L541.5,465.6 L542.0,465.6 L542.5,465.6 L543.0,465.6 L543.5,465.6 L544.0,465.5 L544.5,465.5 L545.0,465.5 L545.5,465.5 L546.0,465.5 L546.5,465.5 L547.0,465.5 L547.5,465.5 L548.0,465.4 L548.5,465.4 L549.0,465.4 L549.5,465.4 L550.0,465.3 L550.5,465.3 L551.0,465.3 L551.5,465.2 L552.0,465.2 L552.5,465.2 L553.0,465.1 L553.5,465.1 L554.0,465.1 L554.5,465.0 L555.0,465.0 L555.5,464.9 L556.0,464.9 L556.5,464.9 L557.0,464.8 L557.5,464.8 L558.0,464.8 L558.5,464.7 L559.0,464.7 L559.5,464.7 L560.0,464.6 L560.5,464.6 L561.0,464.6 L561.5,464.5 L562.0,464.5 L562.5,464.5 L563.0,464.5 L563.5,464.4 L564.0,464.4 L564.5,464.4 L565.0,464.3 L565.5,464.3 L566.0,464.3 L566.5,464.3 L567.0,464.2 L567.5,464.2 L568.0,464.2 L568.5,464.1 L569.0,464.1 L569.5,464.1 L570.0,464.0 L570.5,464.0 L571.0,464.0 L571.5,464.0 L572.0,463.9 L572.5,463.9 L573.0,463.9 L573.5,463.8 L574.0,463.8 L574.5,463.8 L575.0,463.8 L575.5,463.7 L576.0,463.7 L576.5,463.7 L577.0,463.7 L577.5,463.6 L578.0,463.6 L578.5,463.6 L579.0,463.6 L579.5,463.5 L580.0,463.5 L580.5,463.5 L581.0,463.5 L581.5,463.4 L582.0,463.4 L582.5,463.4 L583.0,463.4 L583.5,463.3 L584.0,463.3 L584.5,463.3 L585.0,463.3 L585.5,463.3 L586.0,463.2 L586.5,463.2 L587.0,463.2 L587.5,463.2 L588.0,463.1 L588.5,463.1 L589.0,463.1 L589.5,463.1 L590.0,463.0 L590.5,463.0 L591.0,463.0 L591.5,462.9 L592.0,462.9 L592.5,462.9 L593.0,462.8 L593.5,462.8 L594.0,462.8 L594.5,462.7 L595.0,462.7 L595.5,462.7 L596.0,462.6 L596.5,462.6 L597.0,462.5 L597.5,462.5 L598.0,462.4 L598.5,462.4 L599.0,462.3 L599.5,462.3 L600.0,462.2 L600.5,462.2 L601.0,462.1 L601.5,462.0 L602.0,461.9 L602.5,461.8 L603.0,461.7 L603.5,461.6 L604.0,461.5 L604.5,461.4 L605.0,461.3 L605.5,461.2 L606.0,461.1 L606.5,461.0 L607.0,460.9 L607.5,460.8 L608.0,460.7 L608.5,460.6 L609.0,460.5 L609.5,460.4 L610.0,460.3 L610.5,460.3 L611.0,460.2 L611.5,460.2 L612.0,460.1 L612.5,460.1 L613.0,460.1 L613.5,460.1 L614.0,460.1 L614.5,460.1 L615.0,460.1 L615.5,460.0 L616.0,460.0 L616.5,460.0 L617.0,460.0 L617.5,460.0 L618.0,460.0 L618.5,460.0 L619.0,460.0 L619.5,460.0 L620.0,459.9 L620.5,459.9 L621.0,459.9 L621.5,459.8 L622.0,459.8 L622.5,459.7 L623.0,459.7 L623.5,459.6 L624.0,459.5 L624.5,459.4 L625.0,459.3 L625.5,459.3 L626.0,459.2 L626.5,459.1 L627.0,459.0 L627.5,458.9 L628.0,458.8 L628.5,458.7 L629.0,458.6 L629.5,458.5 L630.0,458.4 L630.5,458.3 L631.0,458.3 L631.5,458.2 L632.0,458.1 L632.5,458.0 L633.0,457.9 L633.5,457.8 L634.0,457.7 L634.5,457.6 L635.0,457.5 L635.5,457.4 L636.0,457.3 L636.5,457.1 L637.0,457.0 L637.5,456.9 L638.0,456.8 L638.5,456.7 L639.0,456.6 L639.5,456.5 L640.0,456.3 L640.5,456.2 L641.0,456.1 L641.5,455.9 L642.0,455.8 L642.5,455.6 L643.0,455.5 L643.5,455.3 L644.0,455.2 L644.5,455.1 L645.0,455.0 L645.5,454.9 L646.0,454.8 L646.5,454.7 L647.0,454.6 L647.5,454.5 L648.0,454.5 L648.5,454.4 L649.0,454.3 L649.5,454.2 L650.0,454.2 L650.5,454.1 L651.0,454.0 L651.5,454.0 L652.0,453.9 L652.5,453.9 L653.0,453.8 L653.5,453.7 L654.0,453.7 L654.5,453.6 L655.0,453.6 L655.5,453.5 L656.0,453.4 L656.5,453.4 L657.0,453.3 L657.5,453.2 L658.0,453.2 L658.5,453.1 L659.0,453.0 L659.5,452.9 L660.0,452.9 L660.5,452.8 L661.0,452.7 L661.5,452.6 L662.0,452.5 L662.5,452.4 L663.0,452.3 L663.5,452.3 L664.0,452.2 L664.5,452.1 L665.0,452.0 L665.5,451.9 L666.0,451.8 L666.5,451.7 L667.0,451.5 L667.5,451.4 L668.0,451.3 L668.5,451.2 L669.0,451.1 L669.5,450.9 L670.0,450.8 L670.5,450.6 L671.0,450.5 L671.5,450.3 L672.0,450.1 L672.5,449.8 L673.0,449.6 L673.5,449.4 L674.0,449.2 L674.5,449.0 L675.0,448.8 L675.5,448.7 L676.0,448.6 L676.5,448.5 L677.0,448.4 L677.5,448.4 L678.0,448.3 L678.5,448.3 L679.0,448.2 L679.5,448.2 L680.0,448.1 L680.5,448.1 L681.0,448.0 L681.5,447.9 L682.0,447.7 L682.5,447.6 L683.0,447.4 L683.5,447.2 L684.0,446.9 L684.5,446.7 L685.0,446.5 L685.5,446.2 L686.0,446.0 L686.5,445.8 L687.0,445.6 L687.5,445.4 L688.0,445.2 L688.5,445.0 L689.0,444.9 L689.5,444.7 L690.0,444.5 L690.5,444.3 L691.0,444.1 L691.5,443.9 L692.0,443.7 L692.5,443.5 L693.0,443.3 L693.5,443.2 L694.0,443.0 L694.5,442.8 L695.0,442.7 L695.5,442.5 L696.0,442.4 L696.5,442.3 L697.0,442.2 L697.5,442.2 L698.0,442.1 L698.5,442.0 L699.0,442.0 L699.5,441.9 L700.0,441.8 L700.5,441.8 L701.0,441.7 L701.5,441.6 L702.0,441.5 L702.5,441.3 L703.0,441.2 L703.5,441.0 L704.0,440.9 L704.5,440.8 L705.0,440.7 L705.5,440.7 L706.0,440.6 L706.5,440.5 L707.0,440.3 L707.5,440.0 L708.0,439.6 L708.5,439.2 L709.0,438.8 L709.5,438.3 L710.0,437.8 L710.5,437.2 L711.0,436.6 L711.5,436.1 L712.0,435.6 L712.5,435.3 L713.0,435.0 L713.5,434.7 L714.0,434.4 L714.5,434.1 L715.0,433.9 L715.5,433.6 L716.0,433.3 L716.5,433.0 L717.0,432.7 L717.5,432.4 L718.0,432.1 L718.5,431.7 L719.0,431.5 L719.5,431.2 L720.0,431.0 L720.5,430.8 L721.0,430.6 L721.5,430.4 L722.0,430.2 L722.5,430.0 L723.0,429.9 L723.5,429.7 L724.0,429.6 L724.5,429.4 L725.0,429.3 L725.5,429.2 L726.0,429.1 L726.5,429.1 L727.0,429.0 L727.5,428.9 L728.0,428.9 L728.5,428.8 L729.0,428.7 L729.5,428.6 L730.0,428.5 L730.5,428.3 L731.0,428.1 L731.5,428.0 L732.0,427.8"/><path d="M231.5,430.6 L232.0,430.7 L232.5,430.7 L233.0,430.7 L233.5,430.8 L234.0,430.8 L234.5,430.8 L235.0,430.8 L235.5,430.8 L236.0,430.7 L236.5,430.7 L237.0,430.7 L237.5,430.6 L238.0,430.5 L238.5,430.5 L239.0,430.4 L239.5,430.3 L240.0,430.2 L240.5,430.0 L241.0,429.9 L241.5,429.7 L242.0,429.6 L242.5,429.4 L243.0,429.2 L243.5,429.0 L244.0,428.8 L244.5,428.5 L245.0,428.3 L245.5,428.0 L246.0,427.7 L246.5,427.4 L247.0,427.1 L247.5,426.8 L248.0,426.4 L248.5,426.1 L249.0,425.7 L249.5,425.3 L250.0,424.9 L250.5,424.4 L251.0,424.0 L251.5,423.5 L252.0,423.0 L252.5,422.5 L253.0,421.9 L253.5,421.4 L254.0,420.8 L254.5,420.2 L255.0,419.6 L255.5,418.9 L256.0,418.3 L256.5,417.6 L257.0,416.9 L257.5,416.1 L258.0,415.4 L258.5,414.6 L259.0,413.8 L259.5,413.0 L260.0,412.1 L260.5,411.2 L261.0,410.4 L261.5,409.4 L262.0,408.5 L262.5,407.5 L263.0,406.5 L263.5,405.5 L264.0,404.4 L264.5,403.3 L265.0,402.2 L265.5,401.1 L266.0,399.9 L266.5,398.7 L267.0,397.5 L267.5,396.3 L268.0,395.0 L268.5,393.7 L269.0,392.3 L269.5,391.0 L270.0,389.6 L270.5,388.2 L271.0,386.7 L271.5,385.2 L272.0,383.7 L272.5,382.1 L273.0,380.6 L273.5,378.9 L274.0,377.3 L274.5,375.6 L275.0,373.9 L275.5,372.1 L276.0,370.4 L276.5,368.6 L277.0,366.7 L277.5,364.8 L278.0,362.9 L278.5,360.9 L279.0,359.0 L279.5,356.9 L280.0,354.9 L280.5,352.8 L281.0,350.6 L281.5,348.5 L282.0,346.3 L282.5,344.0 L283.0,341.7 L283.5,339.4 L284.0,337.0 L284.5,334.6 L285.0,332.2 L285.5,329.7 L286.0,327.2 L286.5,324.6 L287.0,322.0 L287.5,319.4 L288.0,316.7 L288.5,314.0 L289.0,311.3 L289.5,308.5 L290.0,305.7 L290.5,302.9 L291.0,300.0 L291.5,297.1 L292.0,294.3 L292.5,291.4 L293.0,288.5 L293.5,285.5 L294.0,282.6 L294.5,279.7 L295.0,276.8 L295.5,273.9 L296.0,271.0 L296.5,268.1 L297.0,265.2 L297.5,262.4 L298.0,259.5 L298.5,256.7 L299.0,253.9 L299.5,251.2 L300.0,248.4 L300.5,245.7 L301.0,243.1 L301.5,240.5 L302.0,237.9 L302.5,235.4 L303.0,232.9 L303.5,230.4 L304.0,228.0 L304.5,225.7 L305.0,223.4 L305.5,221.2 L306.0,219.0 L306.5,216.9 L307.0,214.8 L307.5,212.8 L308.0,210.9 L308.5,209.0 L309.0,207.2 L309.5,205.4 L310.0,203.7 L310.5,202.1 L311.0,200.6 L311.5,199.1 L312.0,197.7 L312.5,196.4 L313.0,195.1 L313.5,194.0 L314.0,192.9 L314.5,191.9 L315.0,190.9 L315.5,190.1 L316.0,189.3 L316.5,188.7 L317.0,188.1 L317.5,187.6 L318.0,187.2 L318.5,186.9 L319.0,186.6 L319.5,186.5 L320.0,186.4 L320.5,186.5 L321.0,186.6 L321.5,186.8 L322.0,187.1 L322.5,187.5 L323.0,188.0 L323.5,188.5 L324.0,189.2 L324.5,189.9 L325.0,190.8 L325.5,191.7 L326.0,192.7 L326.5,193.8 L327.0,195.0 L327.5,196.3 L328.0,197.6 L328.5,199.1 L329.0,200.7 L329.5,202.3 L330.0,204.1 L330.5,205.9 L331.0,207.8 L331.5,209.8 L332.0,211.9 L332.5,214.2 L333.0,216.4 L333.5,218.8 L334.0,221.3 L334.5,223.9 L335.0,226.5 L335.5,229.2 L336.0,232.0 L336.5,234.9 L337.0,237.8 L337.5,240.7 L338.0,243.8 L338.5,246.8 L339.0,249.9 L339.5,253.0 L340.0,256.2 L340.5,259.4 L341.0,262.6 L341.5,265.8 L342.0,269.0 L342.5,272.2 L343.0,275.5 L343.5,278.7 L344.0,281.9 L344.5,285.1 L345.0,288.3 L345.5,291.4 L346.0,294.5 L346.5,297.6 L347.0,300.6 L347.5,303.6 L348.0,306.6 L348.5,309.5 L349.0,312.3 L349.5,315.1 L350.0,317.9 L350.5,320.6 L351.0,323.2 L351.5,325.9 L352.0,328.4 L352.5,331.0 L353.0,333.4 L353.5,335.9 L354.0,338.3 L354.5,340.6 L355.0,342.9 L355.5,345.2 L356.0,347.4 L356.5,349.6 L357.0,351.8 L357.5,353.9 L358.0,356.0 L358.5,358.0 L359.0,360.0 L359.5,361.9 L360.0,363.9 L360.5,365.7 L361.0,367.6 L361.5,369.4 L362.0,371.2 L362.5,372.9 L363.0,374.6 L363.5,376.3 L364.0,378.0 L364.5,379.6 L365.0,381.1 L365.5,382.7 L366.0,384.2 L366.5,385.7 L367.0,387.2 L367.5,388.6 L368.0,390.0 L368.5,391.4 L369.0,392.7 L369.5,394.0 L370.0,395.3 L370.5,396.6 L371.0,397.8 L371.5,399.0 L372.0,400.2 L372.5,401.3 L373.0,402.4 L373.5,403.5 L374.0,404.6 L374.5,405.7 L375.0,406.7 L375.5,407.7 L376.0,408.7 L376.5,409.6 L377.0,410.6 L377.5,411.5 L378.0,412.4 L378.5,413.2 L379.0,414.1 L379.5,414.9 L380.0,415.7 L380.5,416.5 L381.0,417.2 L381.5,418.0 L382.0,418.7 L382.5,419.4 L383.0,420.1 L383.5,420.8 L384.0,421.4 L384.5,422.1 L385.0,422.7 L385.5,423.3 L386.0,423.9 L386.5,424.4 L387.0,425.0 L387.5,425.5 L388.0,426.0 L388.5,426.6 L389.0,427.0 L389.5,427.5 L390.0,428.0 L390.5,428.5 L391.0,428.9 L391.5,429.3 L392.0,429.7 L392.5,430.1 L393.0,430.5 L393.5,430.9 L394.0,431.3 L394.5,431.7 L395.0,432.0 L395.5,432.4 L396.0,432.7 L396.5,433.0 L397.0,433.3 L397.5,433.6 L398.0,433.9 L398.5,434.2 L399.0,434.5 L399.5,434.8 L400.0,435.1 L400.5,435.4 L401.0,435.6 L401.5,435.9 L402.0,436.1 L402.5,436.4 L403.0,436.6 L403.5,436.9 L404.0,437.1 L404.5,437.4 L405.0,437.6 L405.5,437.8 L406.0,438.0 L406.5,438.3 L407.0,438.5 L407.5,438.7 L408.0,438.9 L408.5,439.2 L409.0,439.4 L409.5,439.6 L410.0,439.8 L410.5,440.1 L411.0,440.3 L411.5,440.5 L412.0,440.7 L412.5,440.9 L413.0,441.2 L413.5,441.4 L414.0,441.6 L414.5,441.8 L415.0,442.0 L415.5,442.3 L416.0,442.5 L416.5,442.7 L417.0,442.9 L417.5,443.2 L418.0,443.4 L418.5,443.6 L419.0,443.9 L419.5,444.1 L420.0,444.4 L420.5,444.6 L421.0,444.9 L421.5,445.1 L422.0,445.4 L422.5,445.6 L423.0,445.9 L423.5,446.2 L424.0,446.4 L424.5,446.7 L425.0,447.0 L425.5,447.2 L426.0,447.4 L426.5,447.7 L427.0,447.9 L427.5,448.2 L428.0,448.5 L428.5,448.8 L429.0,449.1 L429.5,449.4 L430.0,449.7 L430.5,450.1 L431.0,450.4 L431.5,450.8 L432.0,451.2 L432.5,451.6 L433.0,452.0 L433.5,452.4 L434.0,452.8 L434.5,453.2 L435.0,453.6 L435.5,454.1 L436.0,454.6 L436.5,455.2 L437.0,455.7 L437.5,456.3 L438.0,456.8 L438.5,457.3 L439.0,457.7 L439.5,458.0 L440.0,458.2 L440.5,458.3 L441.0,458.5 L441.5,458.6 L442.0,458.7 L442.5,458.8 L443.0,458.8 L443.5,458.9 L444.0,459.0 L444.5,459.0 L445.0,459.0 L445.5,459.0 L446.0,459.0 L446.5,459.0 L447.0,459.0 L447.5,459.0 L448.0,458.9 L448.5,458.9 L449.0,458.9 L449.5,458.9 L450.0,458.8 L450.5,458.7 L451.0,458.6 L451.5,458.5 L452.0,458.4 L452.5,458.3 L453.0,458.2 L453.5,458.1 L454.0,458.1 L454.5,458.0 L455.0,457.9 L455.5,457.9 L456.0,457.9 L456.5,457.9 L457.0,458.1 L457.5,458.3 L458.0,458.5 L458.5,458.8 L459.0,459.1 L459.5,459.5 L460.0,459.9 L460.5,460.2 L461.0,460.4 L461.5,460.5 L462.0,460.6 L462.5,460.7 L463.0,460.8 L463.5,460.9 L464.0,461.0 L464.5,461.0 L465.0,461.1 L465.5,461.1 L466.0,461.2 L466.5,461.2 L467.0,461.2 L467.5,461.3 L468.0,461.3 L468.5,461.3 L469.0,461.3 L469.5,461.4 L470.0,461.4 L470.5,461.4 L471.0,461.5 L471.5,461.5 L472.0,461.5 L472.5,461.6 L473.0,461.6 L473.5,461.7 L474.0,461.7 L474.5,461.8 L475.0,461.8 L475.5,461.9 L476.0,461.9 L476.5,462.0 L477.0,462.0 L477.5,462.1 L478.0,462.1 L478.5,462.2 L479.0,462.2 L479.5,462.3 L480.0,462.3 L480.5,462.3 L481.0,462.4 L481.5,462.4 L482.0,462.4 L482.5,462.5 L483.0,462.5 L483.5,462.6 L484.0,462.6 L484.5,462.6 L485.0,462.7 L485.5,462.7 L486.0,462.7 L486.5,462.8 L487.0,462.8 L487.5,462.9 L488.0,462.9 L488.5,462.9 L489.0,463.0 L489.5,463.0 L490.0,463.1 L490.5,463.1 L491.0,463.2 L491.5,463.2 L492.0,463.3 L492.5,463.4 L493.0,463.4 L493.5,463.5 L494.0,463.6 L494.5,463.7 L495.0,463.8 L495.5,463.8 L496.0,463.9 L496.5,464.0 L497.0,464.0 L497.5,464.1 L498.0,464.2 L498.5,464.2 L499.0,464.3 L499.5,464.3 L500.0,464.3 L500.5,464.4 L501.0,464.4 L501.5,464.4 L502.0,464.4 L502.5,464.4 L503.0,464.5 L503.5,464.5 L504.0,464.5 L504.5,464.5 L505.0,464.5 L505.5,464.5 L506.0,464.5 L506.5,464.6 L507.0,464.6 L507.5,464.6 L508.0,464.6 L508.5,464.6 L509.0,464.6 L509.5,464.6 L510.0,464.6 L510.5,464.6 L511.0,464.6 L511.5,464.7 L512.0,464.7 L512.5,464.7 L513.0,464.7 L513.5,464.7 L514.0,464.7 L514.5,464.7 L515.0,464.7 L515.5,464.7 L516.0,464.8 L516.5,464.8 L517.0,464.8 L517.5,464.8 L518.0,464.8 L518.5,464.8 L519.0,464.9 L519.5,464.9 L520.0,464.9 L520.5,464.9 L521.0,465.0 L521.5,465.0 L522.0,465.0 L522.5,465.1 L523.0,465.1 L523.5,465.2 L524.0,465.2 L524.5,465.3 L525.0,465.3 L525.5,465.4 L526.0,465.4 L526.5,465.5 L527.0,465.5 L527.5,465.6 L528.0,465.6 L528.5,465.7 L529.0,465.8 L529.5,465.8 L530.0,465.9 L530.5,465.9 L531.0,466.0 L531.5,466.0 L532.0,466.1 L532.5,466.1 L533.0,466.1 L533.5,466.2 L534.0,466.2 L534.5,466.2 L535.0,466.3 L535.5,466.3 L536.0,466.3 L536.5,466.3 L537.0,466.4 L537.5,466.4 L538.0,466.4 L538.5,466.4 L539.0,466.4 L539.5,466.5 L540.0,466.5 L540.5,466.5 L541.0,466.5 L541.5,466.5 L542.0,466.5 L542.5,466.5 L543.0,466.5 L543.5,466.6 L544.0,466.6 L544.5,466.6 L545.0,466.6 L545.5,466.6 L546.0,466.6 L546.5,466.6 L547.0,466.5 L547.5,466.5 L548.0,466.5 L548.5,466.5 L549.0,466.5 L549.5,466.4 L550.0,466.4 L550.5,466.4 L551.0,466.4 L551.5,466.3 L552.0,466.3 L552.5,466.3 L553.0,466.2 L553.5,466.2 L554.0,466.2 L554.5,466.1 L555.0,466.1 L555.5,466.1 L556.0,466.0 L556.5,466.0 L557.0,465.9 L557.5,465.9 L558.0,465.9 L558.5,465.9 L559.0,465.8 L559.5,465.8 L560.0,465.8 L560.5,465.7 L561.0,465.7 L561.5,465.7 L562.0,465.7 L562.5,465.6 L563.0,465.6 L563.5,465.6 L564.0,465.6 L564.5,465.5 L565.0,465.5 L565.5,465.5 L566.0,465.5 L566.5,465.4 L567.0,465.4 L567.5,465.4 L568.0,465.4 L568.5,465.3 L569.0,465.3 L569.5,465.3 L570.0,465.3 L570.5,465.2 L571.0,465.2 L571.5,465.2 L572.0,465.2 L572.5,465.1 L573.0,465.1 L573.5,465.1 L574.0,465.1 L574.5,465.0 L575.0,465.0 L575.5,465.0 L576.0,465.0 L576.5,464.9 L577.0,464.9 L577.5,464.9 L578.0,464.9 L578.5,464.9 L579.0,464.8 L579.5,464.8 L580.0,464.8 L580.5,464.8 L581.0,464.8 L581.5,464.7 L582.0,464.7 L582.5,464.7 L583.0,464.7 L583.5,464.7 L584.0,464.7 L584.5,464.7 L585.0,464.6 L585.5,464.6 L586.0,464.6 L586.5,464.6 L587.0,464.6 L587.5,464.6 L588.0,464.6 L588.5,464.5 L589.0,464.5 L589.5,464.5 L590.0,464.5 L590.5,464.4 L591.0,464.4 L591.5,464.4 L592.0,464.3 L592.5,464.3 L593.0,464.3 L593.5,464.2 L594.0,464.2 L594.5,464.1 L595.0,464.1 L595.5,464.0 L596.0,463.9 L596.5,463.9 L597.0,463.8 L597.5,463.8 L598.0,463.7 L598.5,463.6 L599.0,463.6 L599.5,463.5 L600.0,463.5 L600.5,463.4 L601.0,463.3 L601.5,463.3 L602.0,463.2 L602.5,463.1 L603.0,463.0 L603.5,462.9 L604.0,462.9 L604.5,462.8 L605.0,462.7 L605.5,462.6 L606.0,462.5 L606.5,462.4 L607.0,462.3 L607.5,462.2 L608.0,462.1 L608.5,462.1 L609.0,462.0 L609.5,461.9 L610.0,461.8 L610.5,461.8 L611.0,461.7 L611.5,461.6 L612.0,461.6 L612.5,461.5 L613.0,461.5 L613.5,461.4 L614.0,461.4 L614.5,461.3 L615.0,461.3 L615.5,461.3 L616.0,461.2 L616.5,461.2 L617.0,461.1 L617.5,461.1 L618.0,461.1 L618.5,461.0 L619.0,461.0 L619.5,460.9 L620.0,460.9 L620.5,460.8 L621.0,460.7 L621.5,460.7 L622.0,460.6 L622.5,460.5 L623.0,460.5 L623.5,460.4 L624.0,460.3 L624.5,460.2 L625.0,460.1 L625.5,460.1 L626.0,460.0 L626.5,459.9 L627.0,459.8 L627.5,459.7 L628.0,459.6 L628.5,459.5 L629.0,459.4 L629.5,459.4 L630.0,459.3 L630.5,459.2 L631.0,459.1 L631.5,459.0 L632.0,458.9 L632.5,458.8 L633.0,458.8 L633.5,458.7 L634.0,458.6 L634.5,458.5 L635.0,458.4 L635.5,458.3 L636.0,458.2 L636.5,458.1 L637.0,458.0 L637.5,457.9 L638.0,457.8 L638.5,457.7 L639.0,457.6 L639.5,457.5 L640.0,457.4 L640.5,457.2 L641.0,457.1 L641.5,456.9 L642.0,456.8 L642.5,456.6 L643.0,456.4 L643.5,456.3 L644.0,456.1 L644.5,456.0 L645.0,455.8 L645.5,455.7 L646.0,455.6 L646.5,455.5 L647.0,455.4 L647.5,455.3 L648.0,455.2 L648.5,455.1 L649.0,455.0 L649.5,455.0 L650.0,454.9 L650.5,454.8 L651.0,454.7 L651.5,454.6 L652.0,454.6 L652.5,454.5 L653.0,454.4 L653.5,454.3 L654.0,454.3 L654.5,454.2 L655.0,454.1 L655.5,454.0 L656.0,454.0 L656.5,453.9 L657.0,453.8 L657.5,453.7 L658.0,453.7 L658.5,453.6 L659.0,453.5 L659.5,453.4 L660.0,453.3 L660.5,453.2 L661.0,453.2 L661.5,453.1 L662.0,453.0 L662.5,452.9 L663.0,452.9 L663.5,452.8 L664.0,452.7 L664.5,452.6 L665.0,452.6 L665.5,452.5 L666.0,452.4 L666.5,452.3 L667.0,452.2 L667.5,452.1 L668.0,452.0 L668.5,451.9 L669.0,451.8 L669.5,451.7 L670.0,451.6 L670.5,451.5 L671.0,451.3 L671.5,451.1 L672.0,450.8 L672.5,450.6 L673.0,450.3 L673.5,450.1 L674.0,449.9 L674.5,449.7 L675.0,449.5 L675.5,449.4 L676.0,449.3 L676.5,449.3 L677.0,449.3 L677.5,449.2 L678.0,449.2 L678.5,449.2 L679.0,449.2 L679.5,449.2 L680.0,449.2 L680.5,449.1 L681.0,449.1 L681.5,449.0 L682.0,449.0 L682.5,448.9 L683.0,448.7 L683.5,448.6 L684.0,448.5 L684.5,448.3 L685.0,448.2 L685.5,448.1 L686.0,448.0 L686.5,447.9 L687.0,447.8 L687.5,447.6 L688.0,447.5 L688.5,447.4 L689.0,447.3 L689.5,447.2 L690.0,447.2 L690.5,447.1 L691.0,447.1 L691.5,447.1 L692.0,447.1 L692.5,447.2 L693.0,447.2 L693.5,447.3 L694.0,447.4 L694.5,447.4 L695.0,447.5 L695.5,447.5 L696.0,447.5 L696.5,447.5 L697.0,447.5 L697.5,447.5 L698.0,447.5 L698.5,447.5 L699.0,447.5 L699.5,447.5 L700.0,447.5 L700.5,447.5 L701.0,447.5 L701.5,447.5 L702.0,447.5 L702.5,447.5 L703.0,447.5 L703.5,447.5 L704.0,447.5 L704.5,447.2 L705.0,446.5 L705.5,445.5 L706.0,444.4 L706.5,443.4 L707.0,442.5 L707.5,441.6 L708.0,440.6 L708.5,439.8 L709.0,439.1 L709.5,438.6 L710.0,438.2 L710.5,437.8 L711.0,437.5 L711.5,437.2 L712.0,437.0 L712.5,436.8 L713.0,436.6 L713.5,436.5 L714.0,436.4 L714.5,436.2 L715.0,436.1 L715.5,435.9 L716.0,435.7 L716.5,435.5 L717.0,435.2 L717.5,434.8 L718.0,434.5 L718.5,434.1 L719.0,433.8 L719.5,433.5 L720.0,433.2 L720.5,433.0 L721.0,432.8 L721.5,432.6 L722.0,432.4 L722.5,432.2 L723.0,432.0 L723.5,431.8 L724.0,431.6 L724.5,431.4 L725.0,431.3 L725.5,431.1 L726.0,430.9 L726.5,430.8 L727.0,430.6 L727.5,430.5 L728.0,430.3 L728.5,430.2 L729.0,430.0 L729.5,429.8 L730.0,429.6 L730.5,429.3 L731.0,429.0 L731.5,428.7 L732.0,428.4"/><path d="M231.5,435.1 L232.0,435.1 L232.5,435.1 L233.0,435.1 L233.5,435.1 L234.0,435.2 L234.5,435.2 L235.0,435.2 L235.5,435.1 L236.0,435.1 L236.5,435.1 L237.0,435.1 L237.5,435.1 L238.0,435.0 L238.5,435.0 L239.0,434.9 L239.5,434.9 L240.0,434.8 L240.5,434.7 L241.0,434.6 L241.5,434.5 L242.0,434.4 L242.5,434.2 L243.0,434.1 L243.5,433.9 L244.0,433.7 L244.5,433.5 L245.0,433.3 L245.5,433.0 L246.0,432.8 L246.5,432.5 L247.0,432.2 L247.5,431.8 L248.0,431.5 L248.5,431.1 L249.0,430.7 L249.5,430.3 L250.0,429.9 L250.5,429.4 L251.0,428.9 L251.5,428.4 L252.0,427.8 L252.5,427.2 L253.0,426.6 L253.5,426.0 L254.0,425.3 L254.5,424.6 L255.0,423.9 L255.5,423.1 L256.0,422.3 L256.5,421.5 L257.0,420.7 L257.5,419.8 L258.0,418.9 L258.5,417.9 L259.0,417.0 L259.5,416.0 L260.0,415.0 L260.5,413.9 L261.0,412.9 L261.5,411.8 L262.0,410.7 L262.5,409.5 L263.0,408.4 L263.5,407.2 L264.0,406.0 L264.5,404.8 L265.0,403.6 L265.5,402.3 L266.0,401.1 L266.5,399.8 L267.0,398.5 L267.5,397.2 L268.0,395.9 L268.5,394.6 L269.0,393.2 L269.5,391.9 L270.0,390.5 L270.5,389.1 L271.0,387.8 L271.5,386.4 L272.0,385.0 L272.5,383.6 L273.0,382.1 L273.5,380.7 L274.0,379.3 L274.5,377.9 L275.0,376.4 L275.5,375.0 L276.0,373.5 L276.5,372.0 L277.0,370.5 L277.5,369.0 L278.0,367.5 L278.5,365.9 L279.0,364.4 L279.5,362.8 L280.0,361.2 L280.5,359.5 L281.0,357.9 L281.5,356.2 L282.0,354.4 L282.5,352.7 L283.0,350.9 L283.5,349.1 L284.0,347.3 L284.5,345.4 L285.0,343.5 L285.5,341.7 L286.0,339.7 L286.5,337.8 L287.0,335.9 L287.5,333.9 L288.0,332.0 L288.5,330.0 L289.0,328.0 L289.5,326.1 L290.0,324.1 L290.5,322.1 L291.0,320.2 L291.5,318.2 L292.0,316.3 L292.5,314.3 L293.0,312.4 L293.5,310.5 L294.0,308.6 L294.5,306.7 L295.0,304.8 L295.5,303.0 L296.0,301.2 L296.5,299.4 L297.0,297.6 L297.5,295.9 L298.0,294.2 L298.5,292.5 L299.0,290.9 L299.5,289.3 L300.0,287.7 L300.5,286.2 L301.0,284.7 L301.5,283.3 L302.0,282.0 L302.5,280.6 L303.0,279.3 L303.5,278.1 L304.0,276.9 L304.5,275.8 L305.0,274.7 L305.5,273.6 L306.0,272.6 L306.5,271.7 L307.0,270.7 L307.5,269.9 L308.0,269.1 L308.5,268.3 L309.0,267.6 L309.5,266.9 L310.0,266.3 L310.5,265.7 L311.0,265.2 L311.5,264.7 L312.0,264.2 L312.5,263.8 L313.0,263.5 L313.5,263.2 L314.0,263.0 L314.5,262.8 L315.0,262.6 L315.5,262.5 L316.0,262.5 L316.5,262.5 L317.0,262.5 L317.5,262.6 L318.0,262.7 L318.5,262.9 L319.0,263.2 L319.5,263.5 L320.0,263.8 L320.5,264.2 L321.0,264.6 L321.5,265.1 L322.0,265.6 L322.5,266.1 L323.0,266.7 L323.5,267.4 L324.0,268.1 L324.5,268.8 L325.0,269.6 L325.5,270.4 L326.0,271.2 L326.5,272.1 L327.0,273.1 L327.5,274.1 L328.0,275.1 L328.5,276.1 L329.0,277.2 L329.5,278.4 L330.0,279.6 L330.5,280.8 L331.0,282.0 L331.5,283.3 L332.0,284.6 L332.5,286.0 L333.0,287.4 L333.5,288.8 L334.0,290.3 L334.5,291.8 L335.0,293.4 L335.5,294.9 L336.0,296.5 L336.5,298.2 L337.0,299.8 L337.5,301.5 L338.0,303.3 L338.5,305.0 L339.0,306.8 L339.5,308.6 L340.0,310.5 L340.5,312.3 L341.0,314.2 L341.5,316.1 L342.0,318.0 L342.5,319.9 L343.0,321.8 L343.5,323.8 L344.0,325.7 L344.5,327.7 L345.0,329.7 L345.5,331.6 L346.0,333.6 L346.5,335.6 L347.0,337.5 L347.5,339.5 L348.0,341.5 L348.5,343.4 L349.0,345.4 L349.5,347.3 L350.0,349.2 L350.5,351.2 L351.0,353.1 L351.5,354.9 L352.0,356.8 L352.5,358.7 L353.0,360.5 L353.5,362.3 L354.0,364.1 L354.5,365.8 L355.0,367.6 L355.5,369.2 L356.0,370.9 L356.5,372.6 L357.0,374.2 L357.5,375.7 L358.0,377.3 L358.5,378.8 L359.0,380.3 L359.5,381.8 L360.0,383.2 L360.5,384.6 L361.0,386.0 L361.5,387.3 L362.0,388.7 L362.5,390.0 L363.0,391.3 L363.5,392.5 L364.0,393.7 L364.5,394.9 L365.0,396.1 L365.5,397.3 L366.0,398.4 L366.5,399.5 L367.0,400.6 L367.5,401.7 L368.0,402.7 L368.5,403.7 L369.0,404.7 L369.5,405.7 L370.0,406.6 L370.5,407.6 L371.0,408.5 L371.5,409.4 L372.0,410.2 L372.5,411.1 L373.0,411.9 L373.5,412.7 L374.0,413.5 L374.5,414.3 L375.0,415.0 L375.5,415.8 L376.0,416.5 L376.5,417.2 L377.0,417.9 L377.5,418.5 L378.0,419.2 L378.5,419.8 L379.0,420.4 L379.5,421.0 L380.0,421.6 L380.5,422.2 L381.0,422.7 L381.5,423.3 L382.0,423.8 L382.5,424.3 L383.0,424.8 L383.5,425.3 L384.0,425.8 L384.5,426.3 L385.0,426.7 L385.5,427.2 L386.0,427.6 L386.5,428.0 L387.0,428.4 L387.5,428.8 L388.0,429.2 L388.5,429.6 L389.0,429.9 L389.5,430.3 L390.0,430.6 L390.5,431.0 L391.0,431.3 L391.5,431.6 L392.0,431.9 L392.5,432.3 L393.0,432.6 L393.5,432.8 L394.0,433.1 L394.5,433.4 L395.0,433.7 L395.5,434.0 L396.0,434.2 L396.5,434.5 L397.0,434.7 L397.5,435.0 L398.0,435.2 L398.5,435.5 L399.0,435.7 L399.5,435.9 L400.0,436.2 L400.5,436.4 L401.0,436.6 L401.5,436.8 L402.0,437.0 L402.5,437.2 L403.0,437.5 L403.5,437.7 L404.0,437.9 L404.5,438.1 L405.0,438.3 L405.5,438.5 L406.0,438.7 L406.5,438.9 L407.0,439.1 L407.5,439.3 L408.0,439.5 L408.5,439.7 L409.0,439.9 L409.5,440.1 L410.0,440.3 L410.5,440.5 L411.0,440.7 L411.5,440.9 L412.0,441.1 L412.5,441.3 L413.0,441.5 L413.5,441.7 L414.0,442.0 L414.5,442.2 L415.0,442.4 L415.5,442.6 L416.0,442.8 L416.5,443.1 L417.0,443.3 L417.5,443.6 L418.0,443.8 L418.5,444.1 L419.0,444.3 L419.5,444.6 L420.0,444.8 L420.5,445.1 L421.0,445.4 L421.5,445.7 L422.0,445.9 L422.5,446.2 L423.0,446.5 L423.5,446.8 L424.0,447.2 L424.5,447.5 L425.0,447.8 L425.5,448.1 L426.0,448.3 L426.5,448.6 L427.0,448.8 L427.5,449.1 L428.0,449.3 L428.5,449.6 L429.0,449.9 L429.5,450.2 L430.0,450.5 L430.5,450.8 L431.0,451.2 L431.5,451.7 L432.0,452.2 L432.5,452.7 L433.0,453.3 L433.5,453.8 L434.0,454.3 L434.5,454.8 L435.0,455.3 L435.5,455.8 L436.0,456.3 L436.5,456.8 L437.0,457.3 L437.5,457.7 L438.0,458.2 L438.5,458.6 L439.0,458.9 L439.5,459.2 L440.0,459.4 L440.5,459.5 L441.0,459.7 L441.5,459.8 L442.0,459.9 L442.5,460.0 L443.0,460.0 L443.5,460.1 L444.0,460.2 L444.5,460.2 L445.0,460.2 L445.5,460.2 L446.0,460.2 L446.5,460.2 L447.0,460.2 L447.5,460.2 L448.0,460.1 L448.5,460.1 L449.0,460.1 L449.5,460.1 L450.0,460.0 L450.5,459.9 L451.0,459.8 L451.5,459.7 L452.0,459.6 L452.5,459.5 L453.0,459.4 L453.5,459.3 L454.0,459.1 L454.5,459.0 L455.0,458.8 L455.5,458.7 L456.0,458.7 L456.5,458.8 L457.0,458.9 L457.5,459.2 L458.0,459.4 L458.5,459.7 L459.0,460.2 L459.5,460.7 L460.0,461.2 L460.5,461.6 L461.0,461.9 L461.5,462.0 L462.0,462.2 L462.5,462.3 L463.0,462.4 L463.5,462.5 L464.0,462.5 L464.5,462.6 L465.0,462.6 L465.5,462.6 L466.0,462.6 L466.5,462.6 L467.0,462.6 L467.5,462.6 L468.0,462.6 L468.5,462.6 L469.0,462.6 L469.5,462.6 L470.0,462.6 L470.5,462.6 L471.0,462.6 L471.5,462.6 L472.0,462.6 L472.5,462.6 L473.0,462.6 L473.5,462.6 L474.0,462.7 L474.5,462.7 L475.0,462.7 L475.5,462.7 L476.0,462.8 L476.5,462.8 L477.0,462.8 L477.5,462.9 L478.0,462.9 L478.5,462.9 L479.0,462.9 L479.5,463.0 L480.0,463.0 L480.5,463.0 L481.0,463.0 L481.5,463.0 L482.0,463.1 L482.5,463.1 L483.0,463.1 L483.5,463.1 L484.0,463.2 L484.5,463.2 L485.0,463.2 L485.5,463.2 L486.0,463.3 L486.5,463.3 L487.0,463.3 L487.5,463.3 L488.0,463.4 L488.5,463.4 L489.0,463.4 L489.5,463.5 L490.0,463.5 L490.5,463.5 L491.0,463.6 L491.5,463.7 L492.0,463.8 L492.5,463.8 L493.0,463.9 L493.5,464.0 L494.0,464.1 L494.5,464.2 L495.0,464.3 L495.5,464.4 L496.0,464.5 L496.5,464.6 L497.0,464.7 L497.5,464.8 L498.0,464.9 L498.5,464.9 L499.0,465.0 L499.5,465.0 L500.0,465.0 L500.5,465.0 L501.0,465.0 L501.5,465.0 L502.0,465.0 L502.5,465.0 L503.0,465.0 L503.5,465.0 L504.0,465.0 L504.5,465.0 L505.0,465.0 L505.5,465.0 L506.0,465.0 L506.5,465.0 L507.0,465.0 L507.5,465.0 L508.0,465.0 L508.5,465.0 L509.0,465.0 L509.5,465.1 L510.0,465.1 L510.5,465.1 L511.0,465.1 L511.5,465.1 L512.0,465.1 L512.5,465.1 L513.0,465.1 L513.5,465.1 L514.0,465.1 L514.5,465.1 L515.0,465.1 L515.5,465.1 L516.0,465.1 L516.5,465.1 L517.0,465.1 L517.5,465.1 L518.0,465.1 L518.5,465.1 L519.0,465.1 L519.5,465.1 L520.0,465.1 L520.5,465.1 L521.0,465.1 L521.5,465.2 L522.0,465.2 L522.5,465.2 L523.0,465.3 L523.5,465.3 L524.0,465.4 L524.5,465.4 L525.0,465.5 L525.5,465.6 L526.0,465.6 L526.5,465.7 L527.0,465.8 L527.5,465.9 L528.0,465.9 L528.5,466.0 L529.0,466.1 L529.5,466.2 L530.0,466.3 L530.5,466.3 L531.0,466.4 L531.5,466.5 L532.0,466.6 L532.5,466.6 L533.0,466.7 L533.5,466.7 L534.0,466.8 L534.5,466.9 L535.0,466.9 L535.5,466.9 L536.0,467.0 L536.5,467.0 L537.0,467.1 L537.5,467.1 L538.0,467.2 L538.5,467.2 L539.0,467.3 L539.5,467.3 L540.0,467.4 L540.5,467.4 L541.0,467.4 L541.5,467.5 L542.0,467.5 L542.5,467.5 L543.0,467.6 L543.5,467.6 L544.0,467.6 L544.5,467.6 L545.0,467.6 L545.5,467.6 L546.0,467.6 L546.5,467.6 L547.0,467.6 L547.5,467.6 L548.0,467.5 L548.5,467.5 L549.0,467.5 L549.5,467.5 L550.0,467.5 L550.5,467.4 L551.0,467.4 L551.5,467.4 L552.0,467.4 L552.5,467.3 L553.0,467.3 L553.5,467.3 L554.0,467.2 L554.5,467.2 L555.0,467.2 L555.5,467.1 L556.0,467.1 L556.5,467.1 L557.0,467.1 L557.5,467.0 L558.0,467.0 L558.5,467.0 L559.0,466.9 L559.5,466.9 L560.0,466.9 L560.5,466.9 L561.0,466.9 L561.5,466.8 L562.0,466.8 L562.5,466.8 L563.0,466.8 L563.5,466.7 L564.0,466.7 L564.5,466.7 L565.0,466.7 L565.5,466.7 L566.0,466.6 L566.5,466.6 L567.0,466.6 L567.5,466.6 L568.0,466.5 L568.5,466.5 L569.0,466.5 L569.5,466.5 L570.0,466.5 L570.5,466.4 L571.0,466.4 L571.5,466.4 L572.0,466.4 L572.5,466.4 L573.0,466.3 L573.5,466.3 L574.0,466.3 L574.5,466.3 L575.0,466.3 L575.5,466.2 L576.0,466.2 L576.5,466.2 L577.0,466.2 L577.5,466.2 L578.0,466.2 L578.5,466.1 L579.0,466.1 L579.5,466.1 L580.0,466.1 L580.5,466.1 L581.0,466.1 L581.5,466.1 L582.0,466.1 L582.5,466.0 L583.0,466.0 L583.5,466.0 L584.0,466.0 L584.5,466.0 L585.0,466.0 L585.5,466.0 L586.0,466.0 L586.5,466.0 L587.0,466.0 L587.5,466.0 L588.0,466.0 L588.5,465.9 L589.0,465.9 L589.5,465.9 L590.0,465.9 L590.5,465.9 L591.0,465.9 L591.5,465.8 L592.0,465.8 L592.5,465.7 L593.0,465.7 L593.5,465.6 L594.0,465.6 L594.5,465.5 L595.0,465.4 L595.5,465.3 L596.0,465.3 L596.5,465.2 L597.0,465.1 L597.5,465.1 L598.0,465.0 L598.5,464.9 L599.0,464.8 L599.5,464.8 L600.0,464.7 L600.5,464.6 L601.0,464.6 L601.5,464.5 L602.0,464.4 L602.5,464.4 L603.0,464.3 L603.5,464.2 L604.0,464.2 L604.5,464.1 L605.0,464.0 L605.5,463.9 L606.0,463.9 L606.5,463.8 L607.0,463.7 L607.5,463.7 L608.0,463.6 L608.5,463.5 L609.0,463.4 L609.5,463.4 L610.0,463.3 L610.5,463.2 L611.0,463.1 L611.5,463.1 L612.0,463.0 L612.5,462.9 L613.0,462.9 L613.5,462.8 L614.0,462.7 L614.5,462.6 L615.0,462.6 L615.5,462.5 L616.0,462.4 L616.5,462.3 L617.0,462.3 L617.5,462.2 L618.0,462.1 L618.5,462.0 L619.0,462.0 L619.5,461.9 L620.0,461.8 L620.5,461.7 L621.0,461.6 L621.5,461.6 L622.0,461.5 L622.5,461.4 L623.0,461.3 L623.5,461.2 L624.0,461.1 L624.5,461.0 L625.0,461.0 L625.5,460.9 L626.0,460.8 L626.5,460.7 L627.0,460.6 L627.5,460.5 L628.0,460.4 L628.5,460.4 L629.0,460.3 L629.5,460.2 L630.0,460.1 L630.5,460.0 L631.0,459.9 L631.5,459.9 L632.0,459.8 L632.5,459.7 L633.0,459.6 L633.5,459.6 L634.0,459.5 L634.5,459.4 L635.0,459.3 L635.5,459.3 L636.0,459.2 L636.5,459.1 L637.0,459.0 L637.5,458.9 L638.0,458.8 L638.5,458.7 L639.0,458.6 L639.5,458.5 L640.0,458.4 L640.5,458.3 L641.0,458.1 L641.5,457.9 L642.0,457.8 L642.5,457.6 L643.0,457.4 L643.5,457.2 L644.0,457.0 L644.5,456.8 L645.0,456.7 L645.5,456.6 L646.0,456.4 L646.5,456.3 L647.0,456.2 L647.5,456.1 L648.0,456.0 L648.5,455.9 L649.0,455.8 L649.5,455.7 L650.0,455.6 L650.5,455.5 L651.0,455.4 L651.5,455.3 L652.0,455.2 L652.5,455.1 L653.0,455.0 L653.5,454.9 L654.0,454.8 L654.5,454.7 L655.0,454.6 L655.5,454.5 L656.0,454.5 L656.5,454.4 L657.0,454.3 L657.5,454.2 L658.0,454.1 L658.5,454.0 L659.0,454.0 L659.5,453.9 L660.0,453.8 L660.5,453.7 L661.0,453.6 L661.5,453.6 L662.0,453.5 L662.5,453.5 L663.0,453.4 L663.5,453.3 L664.0,453.3 L664.5,453.2 L665.0,453.2 L665.5,453.1 L666.0,453.0 L666.5,453.0 L667.0,452.9 L667.5,452.8 L668.0,452.8 L668.5,452.7 L669.0,452.6 L669.5,452.5 L670.0,452.4 L670.5,452.3 L671.0,452.1 L671.5,451.9 L672.0,451.6 L672.5,451.4 L673.0,451.1 L673.5,450.8 L674.0,450.6 L674.5,450.4 L675.0,450.2 L675.5,450.1 L676.0,450.1 L676.5,450.1 L677.0,450.1 L677.5,450.1 L678.0,450.1 L678.5,450.2 L679.0,450.2 L679.5,450.2 L680.0,450.2 L680.5,450.2 L681.0,450.2 L681.5,450.2 L682.0,450.2 L682.5,450.1 L683.0,450.1 L683.5,450.1 L684.0,450.0 L684.5,450.0 L685.0,449.9 L685.5,449.9 L686.0,449.9 L686.5,449.9 L687.0,449.9 L687.5,449.9 L688.0,449.9 L688.5,450.0 L689.0,450.0 L689.5,450.0 L690.0,450.0 L690.5,450.1 L691.0,450.1 L691.5,450.2 L692.0,450.2 L692.5,450.4 L693.0,450.5 L693.5,450.6 L694.0,450.8 L694.5,450.9 L695.0,451.0 L695.5,451.1 L696.0,451.1 L696.5,451.1 L697.0,451.1 L697.5,451.1 L698.0,451.0 L698.5,451.0 L699.0,451.0 L699.5,450.9 L700.0,450.8 L700.5,450.8 L701.0,450.7 L701.5,450.6 L702.0,450.4 L702.5,450.1 L703.0,449.6 L703.5,449.1 L704.0,448.6 L704.5,448.1 L705.0,447.4 L705.5,446.8 L706.0,446.0 L706.5,445.3 L707.0,444.5 L707.5,443.6 L708.0,442.7 L708.5,441.8 L709.0,441.1 L709.5,440.6 L710.0,440.2 L710.5,439.8 L711.0,439.5 L711.5,439.2 L712.0,439.0 L712.5,438.9 L713.0,438.8 L713.5,438.7 L714.0,438.6 L714.5,438.5 L715.0,438.4 L715.5,438.3 L716.0,438.1 L716.5,437.9 L717.0,437.6 L717.5,437.3 L718.0,436.9 L718.5,436.5 L719.0,436.1 L719.5,435.8 L720.0,435.5 L720.5,435.2 L721.0,435.0 L721.5,434.8 L722.0,434.5 L722.5,434.3 L723.0,434.1 L723.5,433.9 L724.0,433.7 L724.5,433.4 L725.0,433.2 L725.5,433.0 L726.0,432.7 L726.5,432.5 L727.0,432.3 L727.5,432.1 L728.0,431.8 L728.5,431.6 L729.0,431.3 L729.5,431.0 L730.0,430.7 L730.5,430.3 L731.0,429.9 L731.5,429.5 L732.0,429.1"/></g>
</svg>
</body></html>
